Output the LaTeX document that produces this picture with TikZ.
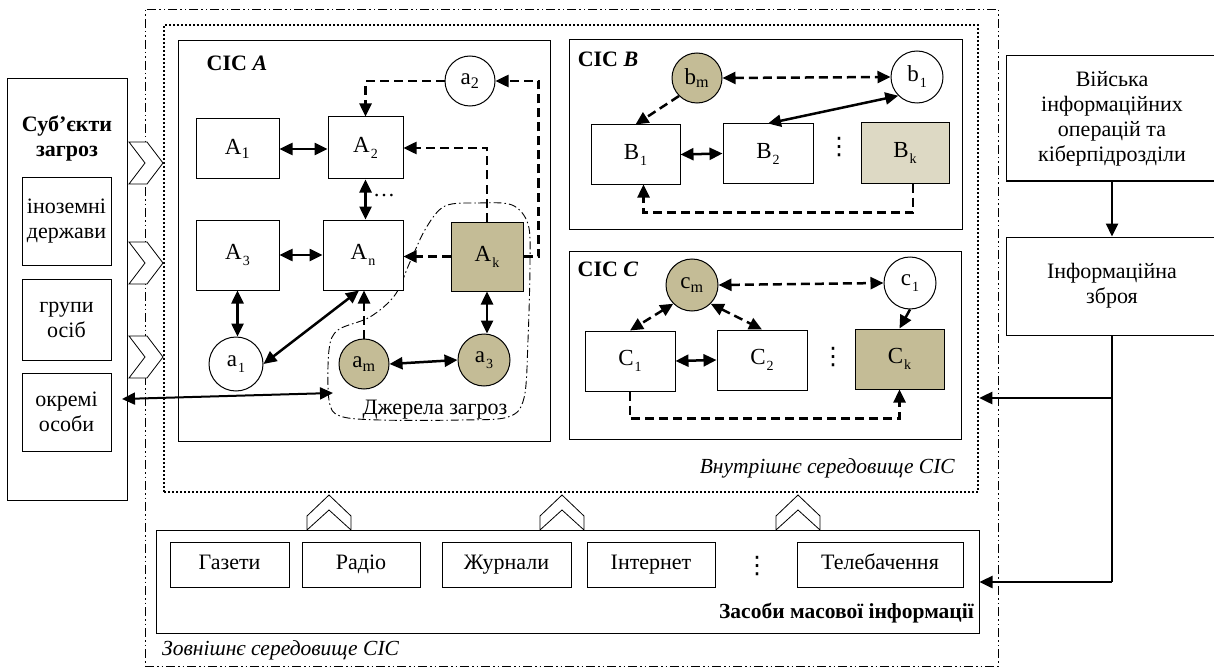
\documentclass[tikz,border=0pt]{standalone}
\usepackage{fontspec}
\setmainfont{Liberation Serif}
\newfontfamily\djv{DejaVu Sans}
\usetikzlibrary{arrows.meta,calc}
\definecolor{tanc}{HTML}{C4BC96}
\definecolor{ltanc}{HTML}{DDD9C4}
\newcommand\fsz{\fontsize{22}{25}\selectfont}
\newcommand\fsl{\fontsize{23}{25}\selectfont}
\newcommand\fse{\fontsize{21.5}{25}\selectfont}
\newcommand\vdt{{\djv\fontsize{24}{24}\selectfont ⋮}}
\newcommand\lsub[1]{\raisebox{-6pt}{\kern1pt\fontsize{14}{14}\selectfont #1}}
\begin{document}
\begin{tikzpicture}[x=1pt,y=-1pt,
  every node/.style={inner sep=0pt},
  font=\fsz,
  bx/.style={draw, line width=1pt, align=center, fill=white},
  mbx/.style={bx, minimum height=45, text height=15pt, text depth=5pt},
  lbx/.style={bx, font=\fsl},
  crc/.style={draw, circle, line width=1pt, minimum size=#1, fill=white, font=\fsl},
  tipa/.tip={Triangle[length=13pt,width=12pt]},
  solidarr/.style={line width=2.5pt, -tipa},
  dblarr/.style={line width=2.5pt, tipa-tipa},
  dasharr/.style={line width=2.5pt, dash pattern=on 9pt off 5pt, -tipa},
  dashdbl/.style={line width=2.5pt, dash pattern=on 9pt off 5pt, tipa-tipa},
  chev/.style={draw, line width=0.8pt, fill=white}
]
\clip (0,0) rectangle (1214,671);
\fill[white] (0,0) rectangle (1214,671);

% environments
\node[draw, line width=0.9pt, dash pattern=on 9pt off 3pt on 1.5pt off 3pt on 1.5pt off 3pt,
      minimum width=853, minimum height=657] (outer) at (571.5,337.5) {};
\node[draw, line width=2.5pt, dash pattern=on 2pt off 2pt,
      minimum width=814, minimum height=467] (inner) at (571,258.5) {};
\node[draw, line width=1pt, minimum width=372, minimum height=400] (cicA) at (364,241) {};
\node[draw, line width=1pt, minimum width=393, minimum height=189] (cicB) at (765.5,134.5) {};
\node[draw, line width=1pt, minimum width=392, minimum height=188] (cicC) at (765,345) {};

% threat sources region
\draw[line width=0.9pt, dash pattern=on 8pt off 3pt on 1.5pt off 3pt]
  plot[smooth cycle, tension=0.55] coordinates{(445,206) (478,203) (512,205) (528,224) (530,262) (528,340) (524,398) (508,417) (460,420) (380,420) (340,416) (329,400) (329,350) (338,330) (370,317) (395,295) (410,262) (426,228)};
\node (dzh) at (435,410) {Джерела загроз};

% ---- CIC A
\node (labA) at (237,63) {\bfseries СІС \textit{A}};
\node[crc=50] (a2) at (470,81) {a\textsubscript{2}};
\node[lbx, minimum width=83, minimum height=60] (A1) at (237.5,149) {A\textsubscript{1}};
\node[lbx, minimum width=75, minimum height=62] (A2) at (365.5,148) {A\lsub{2}};
\node[lbx, minimum width=83, minimum height=70] (A3) at (237.5,255) {A\lsub{3}};
\node[lbx, minimum width=80, minimum height=70] (An) at (363,255) {A\lsub{n}};
\node[lbx, fill=tanc, minimum width=72, minimum height=69] (Ak) at (487,256.5) {A\lsub{k}};
\node[crc=54] (a1) at (236,364) {a\lsub{1}};
\node[crc=50, fill=tanc] (am) at (364,364) {a\textsubscript{m}};
\node[crc=52, fill=tanc] (a3) at (484,360) {a\lsub{3}};
\node (adots) at (384,196) {…};

\draw[dblarr] (A1.east) -- (A1.east -| A2.west);
\draw[dblarr] (A2.south) -- (A2.south |- An.north);
\draw[dblarr] (A3.east) -- (A3.east -| An.west);
\draw[dasharr] (Ak.west) -- (Ak.west -| An.east);
\draw[dblarr] (A3.south) -- (A3.south |- a1.north);
\draw[dblarr] (a1.east) -- ($(An.south)+(-4,0)$);
\draw[dasharr] (am.north) -- (am.north |- An.south);
\draw[dblarr] (am.east) -- (a3.west);
\draw[dblarr] (Ak.south) -- (Ak.south |- a3.north);
\draw[dasharr] (Ak.north) |- (A2.east);
\draw[dasharr] (a2.west) -| (A2.north);
\draw[dasharr] (Ak.east) -- ++(15,0) |- (a2.east);

% ---- CIC B
\node (labB) at (608,59) {\bfseries СІС \textit{B}};
\node[crc=50, fill=tanc] (bm) at (697,78) {b\textsubscript{m}};
\node[crc=52] (b1) at (917,77) {b\lsub{1}};
\node[lbx, minimum width=89, minimum height=59] (B1) at (635.5,154.5) {B\lsub{1}};
\node[lbx, minimum width=90, minimum height=59] (B2) at (768,153.5) {B\lsub{2}};
\node[lbx, fill=ltanc, minimum width=88, minimum height=60] (Bk) at (905,153) {B\lsub{k}};
\node (bdots) at (839,147) {\vdt};
\draw[dashdbl] (bm.east) -- (b1.west);
\draw[dasharr] (bm.south west) -- (B1.north);
\draw[dblarr] (b1.south west) -- (B2.north);
\draw[dblarr] (B1.east) -- (B2.west);
\draw[dasharr] ([xshift=8]Bk.south) -- ++(0,29) -| ([xshift=8]B1.south);

% ---- CIC C
\node (labC) at (608,269) {\bfseries СІС \textit{C}};
\node[crc=52, fill=tanc] (cm) at (692,285) {c\textsubscript{m}};
\node[crc=52] (c1) at (910,283) {c\lsub{1}};
\node[lbx, minimum width=90, minimum height=60] (C1) at (630,361) {C\lsub{1}};
\node[lbx, minimum width=90, minimum height=60] (C2) at (762,360) {C\lsub{2}};
\node[lbx, fill=tanc, minimum width=89, minimum height=60] (Ck) at (899.5,359) {C\lsub{k}};
\node (cdots) at (833,357) {\vdt};
\draw[dashdbl] (cm.east) -- (c1.west);
\draw[dashdbl] (cm.south west) -- (C1.north);
\draw[dashdbl] (cm.south east) -- (C2.north);
\draw[solidarr] (c1.south) -- (Ck.north);
\draw[dblarr] (C1.east) -- (C2.west);
\draw[dasharr] (C1.south) -- ++(0,27) -| (Ck.south);

\node[anchor=east, font=\fse] (vnutr) at (955,468) {\itshape Внутрішнє середовище СІС};

% ---- subjects of threats
\node[draw, line width=1pt, minimum width=120, minimum height=421] (subj) at (67,289.5) {};
\node[align=center, font=\fsz\bfseries] (subjt) at (67,138) {Суб’єкти\\загроз};
\node[bx, minimum width=89, minimum height=87] (s1) at (66.5,221.5) {іноземні\\держави};
\node[bx, minimum width=89, minimum height=81] (s2) at (66.5,319.5) {групи\\осіб};
\node[bx, minimum width=89, minimum height=78] (s3) at (66.5,412) {окремі\\особи};
\foreach \c in {163,263,357}
  \draw[chev] (129,\c-21) -- (147,\c-21) -- (163,\c) -- (147,\c+21) -- (129,\c+21) -- (145,\c) -- cycle;
\coordinate (obp) at (122,399);
\coordinate (src) at (333,393);
\draw[line width=2pt, tipa-tipa] (obp) -- (src);

% ---- mass media
\foreach \c in {329,562,798}
  \draw[chev] (\c,495) -- (\c+22,516) -- (\c+22,530) -- (\c,510) -- (\c-22,530) -- (\c-22,516) -- cycle;
\node[draw, line width=1pt, minimum width=823, minimum height=103] (zmi) at (567.5,581.5) {};
\node[mbx, minimum width=119] (m1) at (229.5,564.5) {Газети};
\node[mbx, minimum width=118] (m2) at (361,564.5) {Радіо};
\node[mbx, minimum width=129] (m3) at (506.5,564.5) {Журнали};
\node[mbx, minimum width=128] (m4) at (651,564.5) {Інтернет};
\node[mbx, minimum width=166] (m5) at (880,564.5) {Телебачення};
\node (mdots) at (757,566) {\vdt};
\node[anchor=east, font=\fse] (zmil) at (974,613) {\bfseries Засоби масової інформації};
\node[anchor=west, font=\fse] (zovn) at (162,650) {\itshape Зовнішнє середовище СІС};

% ---- right side
\node[bx, minimum width=212, minimum height=125] (vis) at (1112,118.5) {Війська\\інформаційних\\операцій та\\кіберпідрозділи};
\node[bx, minimum width=212, minimum height=98] (inf) at (1112,286) {Інформаційна\\зброя};
\draw[solidarr] (vis.south) -- (inf.north);
\coordinate (j1) at (1112,398);
\coordinate (j2) at (1112,582);
\draw[line width=2.5pt] (inf.south) -- (j2);
\draw[solidarr] (j1) -- (j1 -| inner.east);
\draw[solidarr] (j2) -- (j2 -| zmi.east);
\end{tikzpicture}
\end{document}
